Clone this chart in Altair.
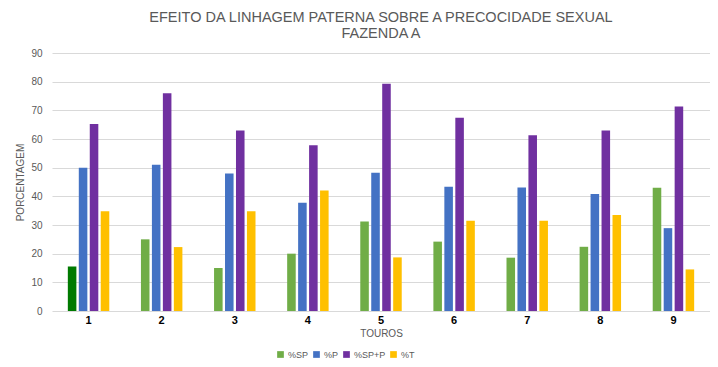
import altair as alt
import pandas as pd

touros = ["1", "2", "3", "4", "5", "6", "7", "8", "9"]
series = ["%SP", "%P", "%SP+P", "%T"]
sp = [15.5, 25.0, 15.0, 20.0, 31.2, 24.2, 18.6, 22.4, 43.0]
p = [50.0, 51.0, 48.0, 37.8, 48.2, 43.3, 43.1, 40.8, 28.9]
spp = [65.2, 76.0, 63.0, 57.8, 79.3, 67.4, 61.3, 63.0, 71.3]
t = [34.8, 22.3, 34.8, 42.0, 18.7, 31.5, 31.5, 33.5, 14.5]
colors = ["#70AD47", "#4472C4", "#7030A0", "#FFC000"]

rows = []
for i, tr in enumerate(touros):
    for s, vals in zip(series, [sp, p, spp, t]):
        rows.append({"touro": tr, "serie": s, "valor": vals[i]})
df = pd.DataFrame(rows)

FONT = "Liberation Sans"
GRAY = "#595959"

chart = alt.Chart(df).mark_bar().encode(
    x=alt.X("touro:N", sort=touros,
            scale=alt.Scale(paddingInner=0.4, paddingOuter=0.2),
            axis=alt.Axis(title="TOUROS", labelAngle=0, labelColor="black",
                          labelFontWeight="bold", labelFontSize=11, labelFont=FONT,
                          titleColor=GRAY, titleFontWeight="normal", titleFontSize=10,
                          titleFont=FONT, domain=False, ticks=False, labelPadding=3,
                          titlePadding=3)),
    xOffset=alt.XOffset("serie:N", sort=series,
                        scale=alt.Scale(paddingInner=0.22, paddingOuter=0.11)),
    y=alt.Y("valor:Q", scale=alt.Scale(domain=[0, 90]),
            axis=alt.Axis(title="PORCENTAGEM", values=list(range(0, 91, 10)),
                          labelColor=GRAY, labelFontSize=10, labelFont=FONT,
                          titleColor=GRAY, titleFontWeight="normal", titleFontSize=10,
                          titleFont=FONT, domain=False, ticks=False, labelPadding=10,
                          gridColor="#d9d9d9", titlePadding=5)),
    color=alt.condition(
        "datum.touro == '1' && datum.serie == '%SP'",
        alt.value("#007A00"),
        alt.Color("serie:N", sort=series,
                  scale=alt.Scale(domain=series, range=colors),
                  legend=alt.Legend(title=None, orient="none", direction="horizontal",
                                    legendX=224, legendY=297,
                                    symbolType="square", symbolSize=45,
                                    labelColor=GRAY, labelFontSize=9, labelFont=FONT,
                                    labelOffset=3, columnPadding=3,
                                    gridAlign="none"))),
).properties(
    width=658, height=258,
    title=alt.TitleParams(
        text=["EFEITO DA LINHAGEM PATERNA SOBRE A PRECOCIDADE SEXUAL", "FAZENDA A"],
        fontSize=14.5, font=FONT, fontWeight="normal", color=GRAY,
        anchor="middle", lineHeight=16, offset=7),
    autosize=alt.AutoSizeParams(type="none"),
    padding={"left": 44, "top": 45, "right": 0, "bottom": 48},
).configure_view(stroke=None)

chart.save("out.html", embed_options={"renderer": "svg", "actions": False})
